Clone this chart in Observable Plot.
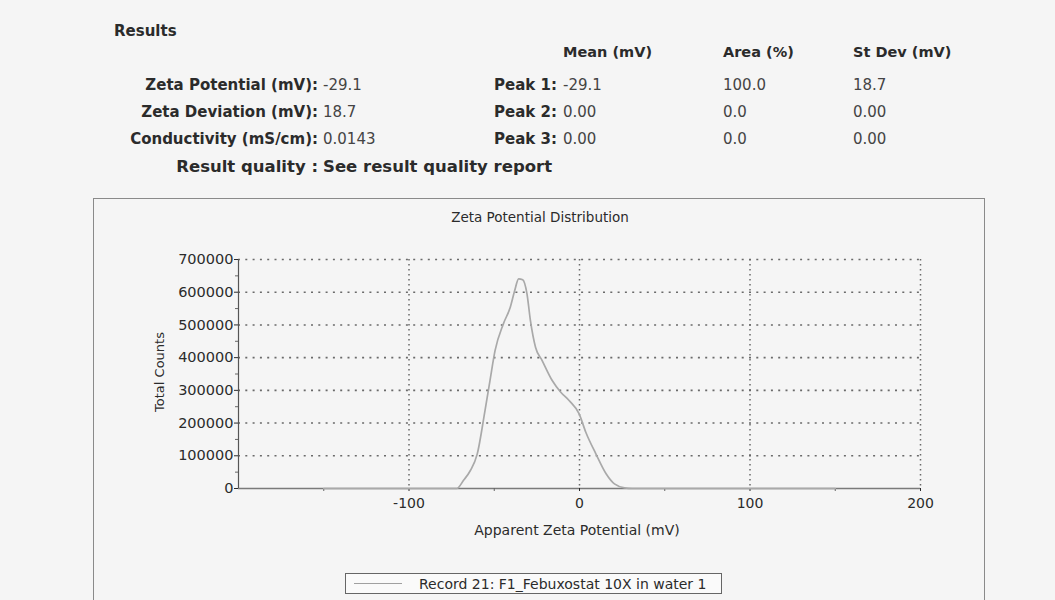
<!DOCTYPE html>
<html><head><meta charset="utf-8">
<script src="https://cdn.jsdelivr.net/npm/d3@7"></script>
<script src="https://cdn.jsdelivr.net/npm/@observablehq/plot@0.6"></script>
<style>
html,body{margin:0;padding:0;background:#f5f5f5;}
#page{position:relative;width:1055px;height:600px;overflow:hidden;font-family:"DejaVu Sans",sans-serif;color:#2b2b2b;}
.t{position:absolute;white-space:nowrap;line-height:18px;height:18px;font-size:15px;}
.b{font-weight:bold;}
.v{color:#444;}
.rt{text-align:right;}
#frame{position:absolute;left:93px;top:198px;width:892px;height:440px;border:1.5px solid #8a8a8a;box-sizing:border-box;}
#plot{position:absolute;left:93px;top:200px;}
#legend{position:absolute;left:345px;top:573px;width:377px;height:21px;border:1px solid #666;box-sizing:border-box;background:#fafafa;}
</style></head>
<body><div id="page"></div>
<script>
// ---- data ----
const zeta_mV = [-150, -100, -72, -68, -64, -60, -55.4, -52.5, -49.5, -44.6, -40.6, -38.0, -35.7, -33.3, -30.8, -28.8, -25.8, -21.9, -16.0, -11.1, -6.1, -0.2, 3.7, 9.6, 15.6, 20.5, 26.4, 31, 100, 150];
const totalCounts = [0, 0, 0, 25000, 55000, 105000, 239000, 330000, 422000, 504000, 554000, 605000, 641000, 638000, 595000, 514000, 432000, 391000, 330000, 295000, 269000, 228000, 172000, 106000, 45000, 14000, 2000, 0, 0, 0];
const xDomain = [-200, 200];
const yDomain = [0, 700000];
const xTicks = [-100, 0, 100, 200];
const xMinorTicks = [-150, -50, 50, 150];
const yTicks = [0, 100000, 200000, 300000, 400000, 500000, 600000, 700000];
const yMinorTicks = [50000, 150000, 250000, 350000, 450000, 550000, 650000];

const headerTitle = "Results";
const columnHeads = ["Mean (mV)", "Area (%)", "St Dev (mV)"];
const summaryLabels = ["Zeta Potential (mV):", "Zeta Deviation (mV):", "Conductivity (mS/cm):"];
const summaryValues = ["-29.1", "18.7", "0.0143"];
const peakLabels = ["Peak 1:", "Peak 2:", "Peak 3:"];
const peakMeans = ["-29.1", "0.00", "0.00"];
const peakAreas = ["100.0", "0.0", "0.0"];
const peakStDevs = ["18.7", "0.00", "0.00"];
const qualityLabel = "Result quality :";
const qualityValue = "See result quality report";
const chartTitle = "Zeta Potential Distribution";
const xLabel = "Apparent Zeta Potential (mV)";
const yLabel = "Total Counts";
const legendLabel = "Record 21: F1_Febuxostat 10X in water 1";

// ---- layout helpers ----
const page = document.getElementById("page");
function txt(s, cls, style) {
  const d = document.createElement("div");
  d.className = "t " + cls;
  d.textContent = s;
  Object.assign(d.style, style);
  page.appendChild(d);
  return d;
}
txt(headerTitle, "b", {left: "114px", top: "22px"});
const colLeft = [563, 723, 853];
columnHeads.forEach((h, i) => txt(h, "b", {left: colLeft[i] + "px", top: "43px", fontSize: "14.5px"}));
const rowY = [76, 103, 130];
summaryLabels.forEach((s, i) => {
  txt(s, "b rt", {right: (1055 - 318) + "px", top: rowY[i] + "px"});
  txt(summaryValues[i], "v", {left: "323px", top: rowY[i] + "px"});
});
peakLabels.forEach((s, i) => {
  txt(s, "b rt", {right: (1055 - 557) + "px", top: rowY[i] + "px"});
  txt(peakMeans[i], "v", {left: colLeft[0] + "px", top: rowY[i] + "px"});
  txt(peakAreas[i], "v", {left: colLeft[1] + "px", top: rowY[i] + "px"});
  txt(peakStDevs[i], "v", {left: colLeft[2] + "px", top: rowY[i] + "px"});
});
txt(qualityLabel, "b rt", {right: (1055 - 318) + "px", top: "158px", fontSize: "16.5px"});
txt(qualityValue, "b", {left: "323px", top: "158px", fontSize: "16.5px"});

const frame = document.createElement("div");
frame.id = "frame";
page.appendChild(frame);

// ---- chart ----
const data = zeta_mV.map((x, i) => ({x, y: totalCounts[i]}));
const chart = Plot.plot({
  width: 892,
  height: 350,
  marginLeft: 145,
  marginRight: 65,
  marginTop: 59,
  marginBottom: 62,
  style: {fontFamily: "DejaVu Sans", fontSize: "14px", color: "#2b2b2b", background: "transparent", overflow: "visible"},
  x: {domain: xDomain},
  y: {domain: yDomain},
  marks: [
    Plot.gridY(yTicks.slice(1), {stroke: "#6a6a6a", strokeOpacity: 1, strokeWidth: 1.6, strokeDasharray: "2,5.3"}),
    Plot.gridX(xTicks, {stroke: "#6a6a6a", strokeOpacity: 1, strokeWidth: 1.5, strokeDasharray: "1.5,3.5"}),
    Plot.ruleY([yDomain[0]], {stroke: "#7a7a7a", strokeWidth: 1.4}),
    Plot.ruleX([xDomain[0]], {stroke: "#555", strokeWidth: 1.2}),
    Plot.axisY(yTicks, {tickSize: 4, tickPadding: 1, tickFormat: d => String(d), label: null, color: "#2b2b2b", fontSize: 14.5}),
    Plot.axisY(yMinorTicks, {tickSize: 3, tickFormat: () => "", label: null, color: "#666"}),
    Plot.axisX(xTicks, {tickSize: 3, tickPadding: 7, tickFormat: d => String(d), label: null, color: "#2b2b2b", fontSize: 14}),
    Plot.axisX(xMinorTicks, {tickSize: 3, tickFormat: () => "", label: null, color: "#666"}),
    Plot.line(data, {x: "x", y: "y", stroke: "#a9a9a9", strokeWidth: 1.7, curve: "monotone-x"})
  ]
});
const holder = document.createElement("div");
holder.id = "plot";
holder.appendChild(chart);
page.appendChild(holder);

txt(chartTitle, "", {left: "540px", top: "208px", fontSize: "13.5px", transform: "translateX(-50%)"});
txt(xLabel, "", {left: "577px", top: "521px", fontSize: "14px", transform: "translateX(-50%)"});
txt(yLabel, "", {left: "160px", top: "372px", fontSize: "13px", transform: "translate(-50%,-50%) rotate(-90deg)"});

const legend = document.createElement("div");
legend.id = "legend";
page.appendChild(legend);
const sample = document.createElement("div");
Object.assign(sample.style, {position: "absolute", left: "354px", top: "583px", width: "48px", height: "0", borderTop: "1.6px solid #a0a0a0"});
page.appendChild(sample);
txt(legendLabel, "", {left: "419px", top: "575px", fontSize: "14px"});
</script>
</body></html>
